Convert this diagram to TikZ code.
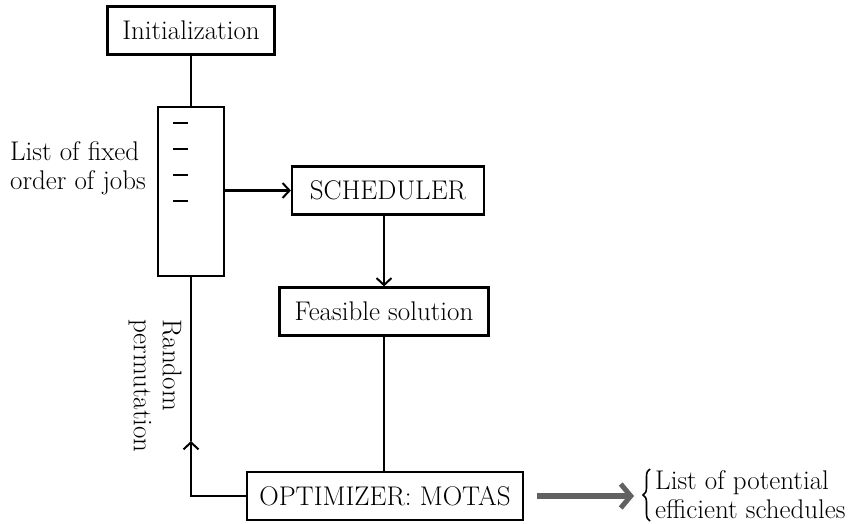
\documentclass[tikz,border=0pt]{standalone}
\usetikzlibrary{arrows.meta,decorations.pathreplacing}
\begin{document}
\begin{tikzpicture}[x=1pt,y=-1pt,
  every node/.style={font=\fontsize{27}{29}\selectfont},
  box/.style={draw,line width=2.2pt,inner sep=0pt,minimum height=48pt},
  conn/.style={line width=2.2pt},
  arr/.style={conn,-{Straight Barb[length=7pt,width=15pt,line width=2pt]}},
  bigarr/.style={line width=6pt,draw=black!62,-{Straight Barb[length=10pt,width=24pt,line width=5pt]}},
  bracestyle/.style={line width=1.6pt,decorate,decoration={brace,amplitude=7pt}},
  dashmark/.style={line width=2pt}]
\useasboundingbox (0,0) rectangle (868,524);
\node[box,minimum width=167pt] (init) at (191,30.5) {Initialization};
\node[draw,line width=2.2pt,minimum width=66pt,minimum height=169pt,inner sep=0pt] (list) at (191,191.5) {};
\draw[dashmark] (173,123) -- (188,123);
\draw[dashmark] (173,149) -- (188,149);
\draw[dashmark] (173,175) -- (188,175);
\draw[dashmark] (173,201) -- (188,201);
\node[align=left] (lbl) at (78,168) {List of fixed\\order of jobs};
\node[box,minimum width=192pt] (sched) at (388,190.5) {SCHEDULER};
\node[box,minimum width=209pt] (feas) at (384,311.5) {Feasible solution};
\node[box,minimum width=276pt] (opt) at (385,496) {OPTIMIZER: MOTAS};
\node[align=left,rotate=-90] (rp) at (155,386) {Random\\permutation};
\coordinate (tip) at (191,441);
\coordinate (bend) at (191,496);
\draw[conn] (init.south) -- (list.north);
\draw[arr] (list.east |- sched.west) -- (sched.west);
\draw[arr] (sched.south -| feas.north) -- (feas.north);
\draw[conn] (feas.south) -- (opt.north -| feas.south);
\draw[arr] (opt.west) -- (bend) -- (tip);
\draw[conn] (tip) -- (list.south);
\coordinate (bbot) at (650,521);
\coordinate (btop) at (650,469);
\draw[bracestyle] (bbot) -- (btop);
\node[anchor=west,align=left,inner sep=0pt] (res) at (655,495) {List of potential\\efficient schedules};
\draw[bigarr] (537,496) -- (634,496);
\end{tikzpicture}
\end{document}
